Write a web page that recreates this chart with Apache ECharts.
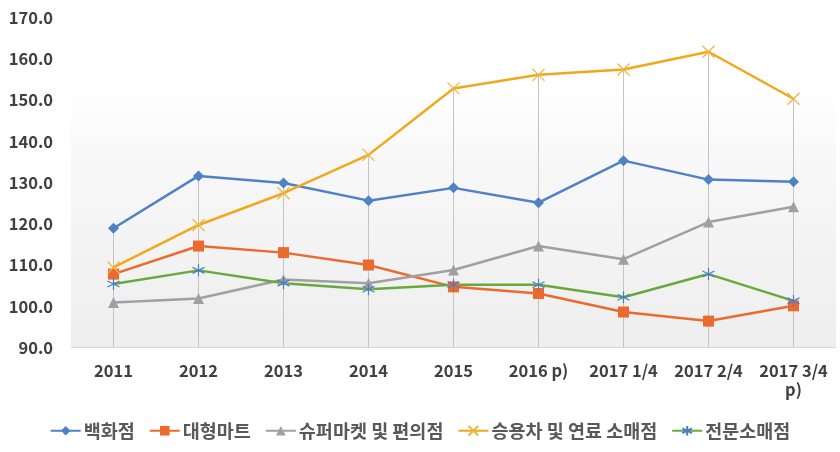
<!DOCTYPE html>
<html><head><meta charset="utf-8">
<script src="https://cdn.jsdelivr.net/npm/echarts@6/dist/echarts.min.js"></script>
<style>html,body{margin:0;padding:0;background:#fff}#c{width:840px;height:452px}</style>
</head><body><div id="c"></div>
<script>
const categories = ['2011','2012','2013','2014','2015','2016 p)','2017 1/4','2017 2/4','2017 3/4\np)'];
const yTicks = [90,100,110,120,130,140,150,160,170];
const seriesNames = ['백화점','대형마트','슈퍼마켓 및 편의점','승용차 및 연료 소매점','전문소매점'];
const dept = [118.9,131.6,129.9,125.6,128.7,125.1,135.3,130.7,130.2];
const mart = [107.8,114.6,113.0,110.0,104.7,103.1,98.6,96.4,100.1];
const superm = [100.9,101.9,106.5,105.6,108.8,114.6,111.4,120.4,124.1];
const cars = [109.4,119.7,127.4,136.7,152.8,156.1,157.4,161.7,150.3];
const special = [105.4,108.7,105.6,104.1,105.2,105.2,102.2,107.8,101.3];

const allSeries = [dept, mart, superm, cars, special];
const dropTop = categories.map((_, i) => Math.max(...allSeries.map(s => s[i])));

const FONT = '"Noto Sans CJK KR", "Noto Sans", sans-serif';
const X_PATH = 'path://M0,0L10,10M10,0L0,10';
const STAR_PATH = 'path://M5,0L5,10M0.7,2.5L9.3,7.5M0.7,7.5L9.3,2.5';

const chart = echarts.init(document.getElementById('c'), null, {renderer: 'canvas'});
chart.setOption({
  animation: false,
  backgroundColor: '#ffffff',
  textStyle: {fontFamily: FONT},
  grid: {
    left: 71, right: 4, top: 17.5, bottom: 104.5,
    show: true, borderWidth: 0,
    backgroundColor: new echarts.graphic.LinearGradient(0, 0, 0, 1, [
      {offset: 0, color: '#ffffff'},
      {offset: 0.22, color: '#ffffff'},
      {offset: 0.42, color: '#f8f8f8'},
      {offset: 1, color: '#eeeeee'}
    ])
  },
  legend: {
    data: seriesNames,
    bottom: 7,
    left: 'center',
    itemWidth: 30,
    itemHeight: 12,
    itemGap: 14,
    textStyle: {fontFamily: FONT, fontSize: 18.5, fontWeight: 'bold', color: '#595959', padding: [0, 0, 0, -2]}
  },
  xAxis: {
    type: 'category',
    data: categories,
    boundaryGap: true,
    axisLine: {lineStyle: {color: '#d9d9d9', width: 1}},
    axisTick: {show: false},
    splitLine: {show: false},
    axisLabel: {
      interval: 0, margin: 14, fontFamily: FONT, fontSize: 16.5, fontWeight: 'bold', color: '#404040', lineHeight: 19
    }
  },
  yAxis: {
    type: 'value',
    min: yTicks[0], max: yTicks[yTicks.length - 1], interval: 10,
    axisLine: {show: false},
    axisTick: {show: false},
    splitLine: {show: false},
    axisLabel: {
      margin: 18, fontFamily: FONT, fontSize: 16.5, fontWeight: 'bold', color: '#404040',
      formatter: v => v.toFixed(1)
    }
  },
  series: [
    {
      name: 'drop', type: 'bar', data: dropTop, barWidth: 1, silent: true, z: 1,
      itemStyle: {color: '#c4c4c4'}
    },
    {
      name: seriesNames[0], type: 'line', data: dept, z: 5,
      symbol: 'diamond', symbolSize: 11,
      lineStyle: {color: '#4f81c6', width: 2.5},
      itemStyle: {color: '#4f81c6'}
    },
    {
      name: seriesNames[1], type: 'line', data: mart, z: 5,
      symbol: 'rect', symbolSize: 11,
      lineStyle: {color: '#ec6a2e', width: 2.5},
      itemStyle: {color: '#ec6a2e'}
    },
    {
      name: seriesNames[2], type: 'line', data: superm, z: 5,
      symbol: 'triangle', symbolSize: 11,
      lineStyle: {color: '#a0a0a0', width: 2.5},
      itemStyle: {color: '#a0a0a0'}
    },
    {
      name: seriesNames[3], type: 'line', data: cars, z: 5,
      symbol: X_PATH, symbolSize: 12,
      lineStyle: {color: '#f0a91c', width: 2.5},
      itemStyle: {color: 'rgba(0,0,0,0)', borderColor: '#f0b43a', borderWidth: 1.2}
    },
    {
      name: seriesNames[4], type: 'line', data: special, z: 5,
      symbol: STAR_PATH, symbolSize: 12,
      lineStyle: {color: '#68a93e', width: 2.5},
      itemStyle: {color: 'rgba(0,0,0,0)', borderColor: '#4a7ec4', borderWidth: 1.2}
    }
  ]
});
</script></body></html>
